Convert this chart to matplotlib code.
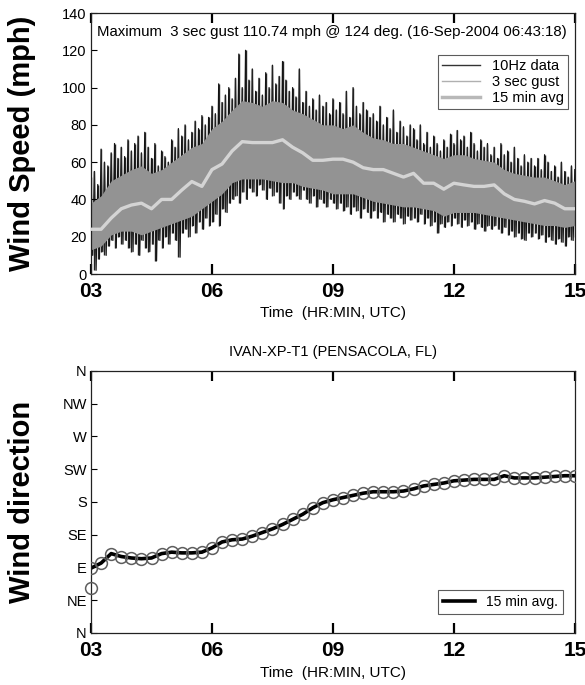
import numpy as np
import matplotlib.pyplot as plt

plt.rcParams['font.family'] = ['Liberation Sans', 'DejaVu Sans']

# 10Hz wind speed envelope, 5 minute samples from 03:00 to 15:00 (mph)
speed_high = [52, 55, 48, 67, 60, 58, 65, 70, 62, 68, 63, 72,
              66, 70, 74, 65, 76, 68, 62, 70, 58, 66, 63, 60,
              72, 68, 78, 74, 80, 72, 76, 82, 78, 85, 80, 84,
              90, 86, 102, 92, 96, 100, 94, 105, 118, 100, 120, 104,
              110, 98, 105, 96, 108, 100, 112, 102, 106, 114, 104, 98,
              100, 95, 110, 92, 98, 90, 94, 88, 96, 90, 92, 86,
              94, 88, 92, 86, 98, 84, 100, 90, 86, 92, 88, 84,
              86, 82, 90, 80, 84, 78, 88, 76, 82, 79, 74, 80,
              78, 72, 80, 70, 76, 68, 74, 70, 66, 72, 68, 75,
              70, 77, 72, 74, 68, 76, 70, 66, 72, 68, 70, 64,
              68, 62, 70, 64, 66, 60, 68, 62, 58, 64, 60, 62,
              58, 62, 56, 64, 60, 55, 58, 52, 60, 55, 52, 58,
              56]
speed_low = [10, 2, 8, 12, 10, 15, 18, 14, 20, 16, 18, 14,
             12, 16, 10, 18, 14, 12, 16, 7, 18, 14, 20, 16,
             22, 18, 9, 22, 24, 20, 26, 22, 28, 24, 30, 26,
             28, 32, 26, 35, 33, 38, 40, 42, 38, 44, 40, 46,
             44, 42, 48, 45, 40, 46, 42, 44, 38, 35, 42, 40,
             44, 42, 40, 45, 40, 38, 42, 36, 40, 38, 36, 40,
             38, 35, 38, 34, 36, 32, 36, 34, 30, 35, 33, 30,
             34, 30, 33, 28, 32, 30, 28, 32, 30, 27, 31, 29,
             30, 28, 32, 27, 30, 26, 28, 22, 27, 25, 28, 26,
             30, 27, 25, 29, 26, 28, 24, 27, 25, 23, 26, 24,
             26, 24, 22, 25, 21, 23, 20, 22, 19, 18, 22, 20,
             22, 19, 21, 17, 20, 18, 16, 19, 17, 15, 20, 18,
             20]

# 3 sec gust band, 15 minute samples (mph)
gust_low = [13, 15, 21, 23, 23, 21, 23, 25, 27, 29, 31, 35, 39,
            43, 49, 51, 51, 51, 50, 49, 49, 47, 46, 45, 43,
            43, 43, 41, 39, 38, 37, 36, 36, 35, 34, 31, 33,
            33, 33, 32, 31, 30, 29, 28, 27, 26, 26, 25, 26]
gust_high = [38, 42, 50, 53, 56, 58, 54, 56, 60, 64, 68, 70, 78,
             82, 88, 93, 92, 90, 93, 92, 88, 86, 83, 80, 80,
             78, 80, 76, 73, 72, 70, 70, 68, 66, 64, 62, 64,
             64, 62, 61, 60, 56, 54, 53, 52, 52, 50, 48, 50]

# 15 minute averages
speed_avg = [24, 24, 30, 35, 37, 38, 35, 40, 40, 45, 49.6, 47, 56,
             59, 66, 71, 70.5, 70.5, 70.5, 72, 68, 65, 61, 61, 61.6,
             61.6, 60, 57, 56, 56, 54, 52, 54, 48.7, 48.7, 45.5, 48.7,
             47.8, 47, 47, 47.8, 43, 40, 39, 37.6, 39.4, 38, 35, 35]
dir_avg = [89, 96, 109, 105, 103, 102, 103, 109, 111, 110, 110, 111, 117,
           125, 128, 129, 133, 138, 143, 149, 156, 163, 172, 179, 183,
           186, 189, 192, 194, 194, 194, 195, 198, 202, 204, 206, 209,
           210, 211, 211, 211, 216, 213, 213, 213, 214, 215, 216, 216]
dir_start = 62

t5 = 3 + np.arange(len(speed_high)) * 5 / 60
t15 = 3 + np.arange(len(speed_avg)) * 0.25

xticks = [3, 6, 9, 12, 15]
xlabels = ['03', '06', '09', '12', '15']
dir_ticks = np.arange(0, 361, 45)
dir_labels = ['N', 'NE', 'E', 'SE', 'S', 'SW', 'W', 'NW', 'N']

fig = plt.figure(figsize=(5.85, 6.85), dpi=100)
ax1 = fig.add_axes([0.1556, 0.600, 0.827, 0.381])
ax2 = fig.add_axes([0.1556, 0.076, 0.827, 0.3825])

# Wind speed: 10Hz trace swings between the sampled highs and lows
t_zig = np.column_stack([t5, t5 + 2.5 / 60]).ravel()[:-1]
v_zig = np.column_stack([speed_high, speed_low]).ravel()[:-1]
ax1.plot(t_zig, v_zig, color='#111111', lw=0.9, zorder=1)
ax1.vlines(t5, speed_low, speed_high, color='#222222', lw=1.0, zorder=1)
ax1.fill_between(t15, gust_low, gust_high, color='#939393', lw=0, zorder=2)
ax1.plot(t15, speed_avg, color='#d4d4d4', lw=2.4, zorder=3)
ax1.plot([], [], color='#333333', lw=1, label='10Hz data')
ax1.plot([], [], color='#b0b0b0', lw=1, label='3 sec gust')
ax1.plot([], [], color='#b8b8b8', lw=2.5, label='15 min avg')
leg = ax1.legend(loc='upper right', bbox_to_anchor=(0.986, 0.84), fontsize=10.5,
                 frameon=True, fancybox=False, edgecolor='#333333',
                 borderpad=0.3, labelspacing=0.12, handlelength=2.6,
                 handletextpad=0.8, borderaxespad=0)
leg.get_frame().set_linewidth(0.8)
ax1.text(0.013, 0.955, 'Maximum  3 sec gust 110.74 mph @ 124 deg. (16-Sep-2004 06:43:18)',
         transform=ax1.transAxes, fontsize=10.8, va='top', ha='left')
ax1.set_xlim(3, 15)
ax1.set_ylim(0, 140)
ax1.set_yticks(np.arange(0, 141, 20))
ax1.set_ylabel('Wind Speed (mph)', fontsize=21, fontweight='bold')
ax1.set_xlabel('Time  (HR:MIN, UTC)', fontsize=11, labelpad=3)

# Wind direction
ax2.plot(t15, dir_avg, color='black', lw=2.6, zorder=2, label='15 min avg.')
ax2.plot(t15, dir_avg, 'o', mfc='none', mec='#5e5e5e', ms=8.5, mew=1.1, zorder=3)
ax2.plot([3], [dir_start], 'o', mfc='none', mec='#5e5e5e', ms=8.5, mew=1.1,
         zorder=3, clip_on=False)
leg2 = ax2.legend(loc='lower right', bbox_to_anchor=(0.975, 0.073), fontsize=10,
                  frameon=True, fancybox=False, edgecolor='#333333',
                  borderpad=0.35, handlelength=2.3, handletextpad=0.8,
                  borderaxespad=0)
leg2.get_frame().set_linewidth(0.8)
ax2.set_xlim(3, 15)
ax2.set_ylim(0, 360)
ax2.set_yticks(dir_ticks)
ax2.set_yticklabels(dir_labels)
ax2.set_ylabel('Wind direction', fontsize=21, fontweight='bold')
ax2.set_xlabel('Time  (HR:MIN, UTC)', fontsize=11, labelpad=4)
ax2.set_title('IVAN-XP-T1 (PENSACOLA, FL)', fontsize=10.5, pad=11)

for ax in (ax1, ax2):
    ax.set_xticks(xticks)
    ax.set_xticklabels(xlabels, fontsize=15, fontweight='bold')
    ax.tick_params(axis='x', direction='in', length=7, width=1.6, pad=6,
                   top=True)
    ax.tick_params(axis='y', direction='in', length=4, width=0.8,
                   labelsize=10.5, pad=3)
    for s in ax.spines.values():
        s.set_linewidth(0.9)
        s.set_color('#222222')
    ax.yaxis.set_label_coords(-0.113, 0.5)

fig.savefig('out.png', dpi=100)
